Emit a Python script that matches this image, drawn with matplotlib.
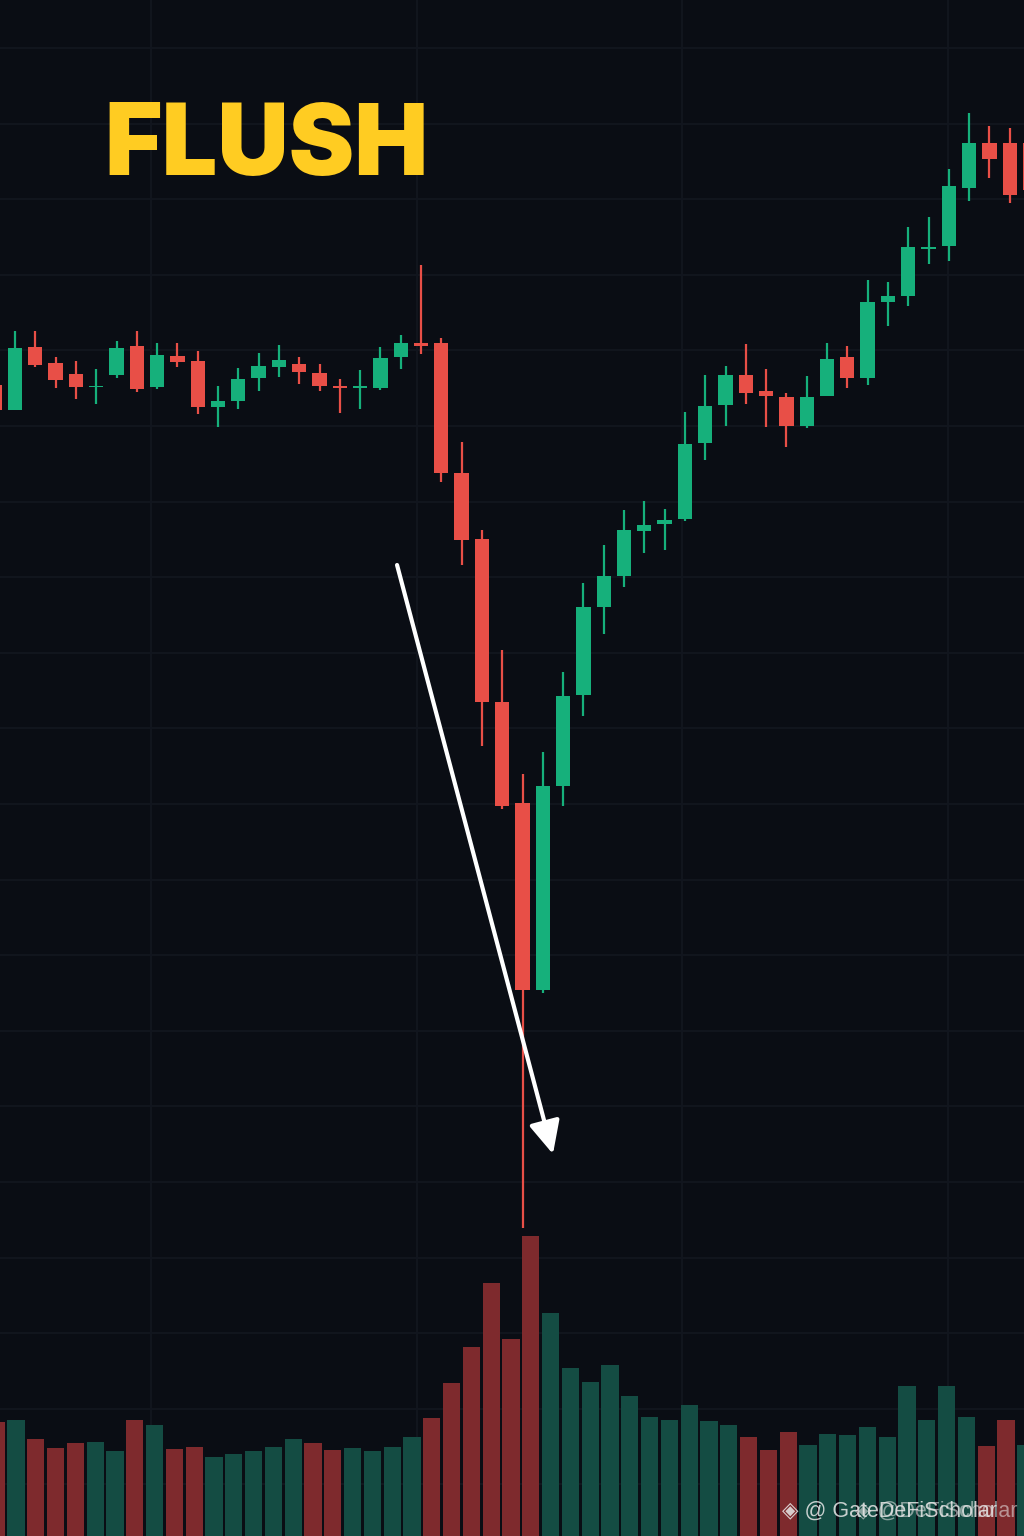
import matplotlib
matplotlib.use("Agg")
import matplotlib.pyplot as plt
from matplotlib.ticker import MultipleLocator
import numpy as np

# candle data, index -1 .. 50
opens = [115.1, 112.6, 118.9, 117.3, 116.2, 114.9, 116.1, 119.0, 114.9, 118.0,
         117.5, 112.9, 113.5, 115.8, 116.9, 117.2, 116.3, 115.0, 114.8, 114.8,
         117.9, 119.3, 119.3, 106.3, 99.7, 83.4, 73.3, 54.6, 75.0, 84.1,
         92.9, 96.0, 100.5, 101.2, 101.7, 109.3, 113.1, 116.1, 114.5, 113.9,
         111.0, 114.0, 117.9, 115.8, 123.4, 124.0, 128.7, 129.0, 134.8, 139.3,
         139.3, 139.3]
highs = [115.8, 120.5, 120.5, 117.9, 117.5, 116.7, 119.5, 120.5, 119.3, 119.3,
         118.5, 115.0, 116.8, 118.3, 119.1, 117.9, 117.2, 115.7, 116.6, 118.9,
         120.1, 127.1, 119.8, 109.4, 100.6, 88.6, 76.2, 78.4, 86.4, 95.3,
         99.1, 102.6, 103.5, 102.7, 112.4, 116.1, 117.0, 119.2, 116.7, 114.3,
         116.0, 119.3, 119.0, 125.6, 125.4, 130.9, 131.9, 136.7, 142.3, 141.0,
         140.8, 140.6]
lows = [112.4, 112.6, 116.9, 114.8, 113.7, 113.2, 115.8, 114.4, 114.7, 116.9,
        112.2, 110.9, 112.7, 114.5, 115.9, 115.2, 114.5, 112.3, 112.7, 114.6,
        116.7, 118.2, 105.4, 97.1, 79.0, 72.7, 30.8, 54.3, 73.0, 82.0,
        90.2, 94.9, 98.3, 98.6, 101.5, 107.6, 111.0, 113.2, 110.9, 108.9,
        110.8, 114.0, 114.8, 115.1, 121.0, 123.0, 127.2, 127.5, 133.5, 135.8,
        133.3, 133.6]
closes = [112.6, 118.8, 117.1, 115.6, 114.9, 115.0, 118.8, 114.7, 118.1, 117.4,
          112.9, 113.5, 115.7, 117.0, 117.6, 116.4, 115.0, 114.8, 115.0, 117.8,
          119.3, 119.0, 106.3, 99.6, 83.4, 73.0, 54.6, 75.0, 84.0, 92.9,
          96.0, 100.6, 101.1, 101.6, 109.2, 113.0, 116.1, 114.3, 114.0, 111.0,
          113.9, 117.7, 115.8, 123.4, 124.0, 128.9, 128.9, 135.0, 139.3, 137.7,
          134.1, 134.6]

# volume bars (own index -1 .. 51)
volumes = [114, 116, 97, 88, 93, 94, 85, 116, 111, 87,
           89, 79, 82, 85, 89, 97, 93, 86, 88, 85,
           89, 99, 118, 153, 189, 253, 197, 300, 223, 168,
           154, 171, 140, 119, 116, 131, 115, 111, 99, 86,
           104, 91, 102, 101, 109, 99, 150, 116, 150, 119,
           90, 116, 91]
vol_side = "RGRRRGGRGRRGGGGGRRGGGGRRRRRRGGGGGGGGGGRRRGGGGGGGGGRRG"

bg = "#0a0d14"
grid_c = "#12161f"
up_c = "#16b07b"
down_c = "#e84f47"
vol_up_c = "#144c43"
vol_down_c = "#7e2a2d"

fig = plt.figure(figsize=(10.24, 15.36), dpi=100, facecolor=bg)

# price panel (bottom layer, carries the grid)
ax = fig.add_axes([0, 0, 1, 1], facecolor=bg)
x = np.arange(-1, len(opens) - 1)
o = np.array(opens)
c = np.array(closes)
colors = [up_c if cc >= oo else down_c for oo, cc in zip(o, c)]
ax.vlines(x, lows, highs, colors=colors, linewidth=1.6, zorder=3)
ax.bar(x, np.abs(c - o), bottom=np.minimum(o, c), width=0.7,
       color=colors, linewidth=0, zorder=4)

ax.set_xlim(-15 / 20.3, -15 / 20.3 + 1024 / 20.3)
ax.set_ylim(0, 153.6)
ax.yaxis.set_major_locator(MultipleLocator(7.56, offset=5.16))
ax.xaxis.set_major_locator(MultipleLocator(13.09, offset=6.70))
ax.grid(True, color=grid_c, linewidth=1.3)
ax.set_axisbelow(True)
ax.tick_params(length=0, labelleft=False, labelbottom=False)
for s in ax.spines.values():
    s.set_visible(False)

# the flush arrow
ax.annotate("", xy=(26.5, 38.2), xytext=(18.82, 97.1),
            arrowprops=dict(arrowstyle="-|>,head_length=2.0,head_width=0.95",
                            color="white", lw=3, shrinkA=0, shrinkB=0,
                            mutation_scale=10), zorder=6)

# volume panel on top, transparent
vax = fig.add_axes([0, 0, 1, 1], facecolor="none")
vx = np.arange(-1, len(volumes) - 1)
vcol = [vol_up_c if s == "G" else vol_down_c for s in vol_side]
vax.bar(vx, volumes, width=0.86, color=vcol, linewidth=0)
vax.set_xlim(-16 / 19.8, -16 / 19.8 + 1024 / 19.8)
vax.set_ylim(0, 1536)
vax.axis("off")

fig.text(104 / 1024, 1 - 175 / 1536, "FLUSH", color="#ffcc22",
         fontsize=71, fontweight="black", family=["Inter", "DejaVu Sans"],
         ha="left", va="baseline")

# watermark (two overlapping copies, as in the source image)
fig.text(782 / 1024, 1 - 1517 / 1536, "\u25c8 @ GateDeFiScholar", color="#e8e8e8",
         alpha=0.85, fontsize=15.5, family=["Liberation Sans", "DejaVu Sans"],
         ha="left", va="baseline")
fig.text(855 / 1024, 1 - 1517 / 1536, "\u25c8 @DeFiScholar", color="#e8e8e8",
         alpha=0.55, fontsize=15.5, family=["Liberation Sans", "DejaVu Sans"],
         ha="left", va="baseline")

fig.savefig("out.png", dpi=100, facecolor=bg)
